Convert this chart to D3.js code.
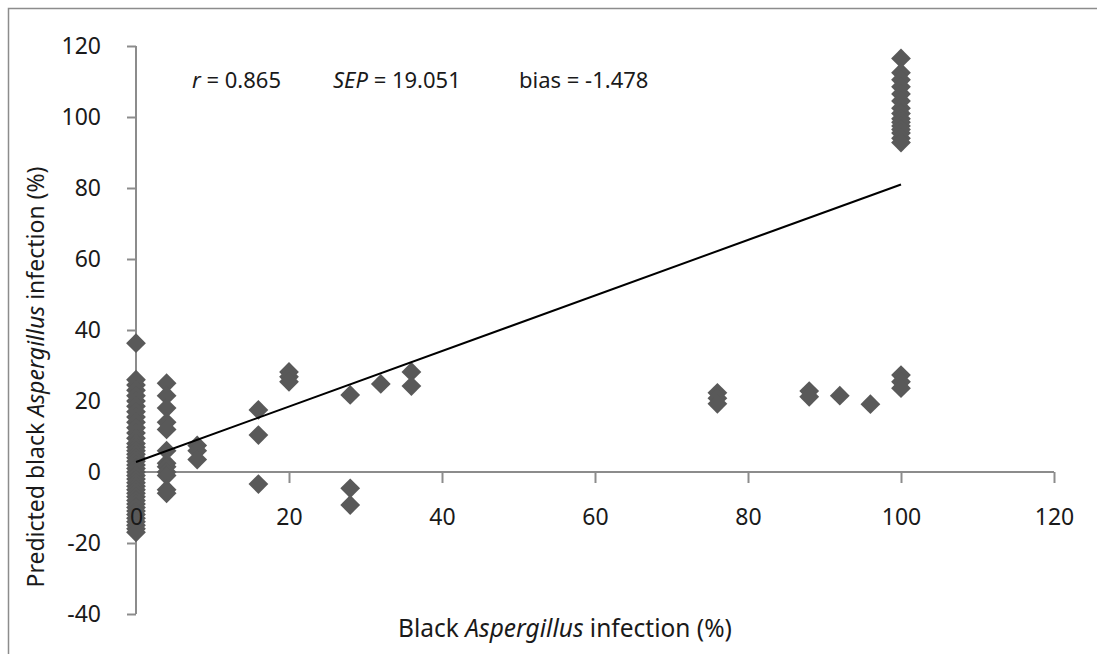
<!DOCTYPE html>
<html><head><meta charset="utf-8">
<script src="https://cdn.jsdelivr.net/npm/d3@7"></script>
<style>
body{margin:0;background:#fff;}
text{font-family:"Noto Sans",sans-serif;fill:#1a1a1a;}
</style></head>
<body><svg id="c" width="1097" height="654"></svg>
<script>
// Data: [actual %, predicted %]
const group0 = [36.3,26,24.5,23,21.5,20,18.5,17,15.5,14,12.5,11,9.5,8,7,6,5,4,3,2,1,0,-1,-2,-3,-4,-5,-6,-7,-8,-9,-10,-11,-12,-13,-14,-15,-16,-17];
const group4 = [25,21.5,18,14,12,6,2.5,1.5,0,-1,-5,-6];
const group8 = [7.5,6,3.5];
const group16 = [17.5,10.4,-3.4];
const group20 = [28.2,26.8,25.4];
const group28 = [21.7,-4.6,-9.3];
const group32 = [24.8];
const group36 = [28.2,24.2];
const group76 = [22.3,20.8,19.2];
const group88 = [22.8,21.2];
const group92 = [21.5];
const group96 = [19.1];
const group100low = [27.3,25.4,23.6];
const group100high = [116.5,112.5,110.5,108.5,106.5,104.5,102.5,101,99.5,98.5,97.5,96.5,95.5,94,92.8];
const groupX = [0,4,8,16,20,28,32,36,76,88,92,96,100,100];
const groupY = [group0,group4,group8,group16,group20,group28,group32,group36,group76,group88,group92,group96,group100low,group100high];
const points = [];
groupX.forEach((x,i)=>groupY[i].forEach(y=>points.push([x,y])));
const fitLine = [[0,2.8],[100,81]];
const xTicks = [0,20,40,60,80,100,120];
const yTicks = [-40,-20,0,20,40,60,80,100,120];
const annotation = {r:"0.865", sep:"19.051", bias:"-1.478"};

const svg = d3.select("#c");
svg.append("rect").attr("x",8.5).attr("y",8.5).attr("width",1200).attr("height",800)
  .attr("fill","none").attr("stroke","#8c8c8c").attr("stroke-width",1.5);

const x = d3.scaleLinear().domain([0,120]).range([136,1054]);
const y = d3.scaleLinear().domain([-40,120]).range([614,46]);

const gy = svg.append("g").attr("transform","translate(136,0)")
  .call(d3.axisLeft(y).tickValues(yTicks).tickSize(9).tickPadding(26).tickFormat(d=>String(d)));
const gx = svg.append("g").attr("transform",`translate(0,${y(0)})`)
  .call(d3.axisBottom(x).tickValues(xTicks).tickSize(11).tickPadding(26).tickFormat(d=>String(d)));
[gx,gy].forEach(g=>{
  g.select(".domain").attr("stroke","#8c8c8c").attr("stroke-width",2);
  g.selectAll(".tick line").attr("stroke","#8c8c8c").attr("stroke-width",2);
  g.selectAll("text").style("font-size","23px").attr("fill","#1a1a1a").style("font-family","Noto Sans");
});
gx.select(".domain").attr("d",`M${x(0)},0H${x(120)}`);
gy.select(".domain").attr("d",`M0,${y(-40)}V${y(120)}`);

const sym = d3.symbol().type(d3.symbolDiamond2).size(250);
svg.append("g").selectAll("path").data(points).join("path")
  .attr("transform",d=>`translate(${x(d[0])},${y(d[1])})`)
  .attr("d",sym).attr("fill","#595959");

svg.append("line").attr("x1",x(fitLine[0][0])).attr("y1",y(fitLine[0][1]))
  .attr("x2",x(fitLine[1][0])).attr("y2",y(fitLine[1][1]))
  .attr("stroke","#000").attr("stroke-width",2);

// bring x tick labels above the markers
const topLayer = svg.append("g").attr("transform",`translate(0,${y(0)})`);
gx.selectAll(".tick").each(function(){
  const tr = d3.select(this).attr("transform");
  const txt = d3.select(this).select("text");
  topLayer.append("text").attr("transform",tr).attr("y",txt.attr("y")).attr("dy",txt.attr("dy"))
    .attr("text-anchor","middle").style("font-size","23px").text(txt.text());
  txt.remove();
});

const ann = svg.append("g").style("font-size","22px");
const t1 = ann.append("text").attr("x",192).attr("y",88);
t1.append("tspan").attr("font-style","italic").text("r");
t1.append("tspan").text(" = "+annotation.r);
const t2 = ann.append("text").attr("x",333).attr("y",88);
t2.append("tspan").attr("font-style","italic").text("SEP");
t2.append("tspan").text(" = "+annotation.sep);
ann.append("text").attr("x",519).attr("y",88).text("bias = "+annotation.bias);

const xt = svg.append("text").attr("x",565).attr("y",637).attr("text-anchor","middle").style("font-size","24.5px");
xt.append("tspan").text("Black ");
xt.append("tspan").attr("font-style","italic").text("Aspergillus");
xt.append("tspan").text(" infection (%)");

const yt = svg.append("text").attr("transform","translate(44,377) rotate(-90)").attr("text-anchor","middle").style("font-size","23px");
yt.append("tspan").text("Predicted black ");
yt.append("tspan").attr("font-style","italic").text("Aspergillus");
yt.append("tspan").text(" infection (%)");
</script></body></html>
